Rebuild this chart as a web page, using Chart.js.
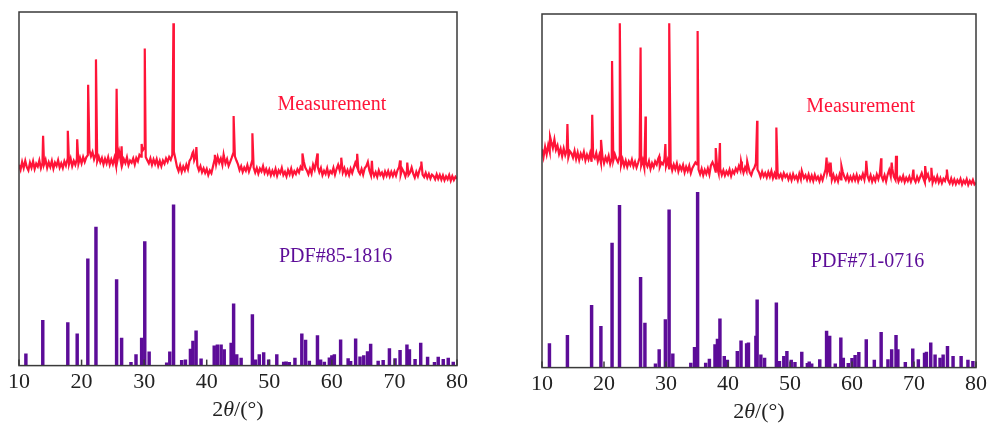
<!DOCTYPE html>
<html>
<head>
<meta charset="utf-8">
<script src="https://cdn.jsdelivr.net/npm/chart.js@4/dist/chart.umd.min.js"></script>
<style>
  html, body { margin: 0; padding: 0; background: #fff; }
  .panel { position: absolute; top: 0; width: 495px; height: 424px; }
  #leftBox { left: 0; }
  #rightBox { left: 495px; }
</style>
</head>
<body>
<div class="panel" id="leftBox"><canvas id="leftChart"></canvas></div>
<div class="panel" id="rightBox"><canvas id="rightChart"></canvas></div>
<script>
// x軸 2θ (°)
const xTicks = [10, 20, 30, 40, 50, 60, 70, 80];
const measStart = 10;
const measStep = 0.25;

// 左：測定データ（10°〜80°、0.25°刻み、強度は任意単位）
const leftMeasY = [
  56.8,55.4,57.6,55.9,57.9,56.1,55.2,57.4,56.0,57.8,55.6,57.1,56.3,58.0,55.8,57.3,56.9,58.2,55.9,57.5,
  56.2,57.9,55.7,57.4,56.5,58.1,56.0,57.2,55.9,57.8,56.6,58.3,57.0,58.6,56.4,57.9,56.8,58.4,57.1,58.8,
  57.2,59.0,57.6,58.9,59.5,61.0,59.2,60.4,58.3,59.6,57.8,59.1,57.5,58.7,56.9,58.5,57.2,58.9,56.8,58.3,
  57.0,58.8,56.6,58.2,60.5,58.0,56.8,58.4,57.3,58.9,56.7,58.0,57.4,58.6,56.9,58.7,57.8,59.6,59.1,60.8,
  61.5,59.0,58.1,57.2,58.6,56.8,58.3,57.0,58.4,56.5,57.9,56.4,58.0,57.1,58.6,57.6,59.0,58.2,59.6,60.5,
  58.4,56.2,55.0,56.6,54.8,56.3,55.2,56.8,55.5,57.9,58.6,60.2,58.1,59.3,56.6,55.2,56.4,54.7,55.8,54.5,
  55.6,53.9,55.2,54.4,56.3,58.2,56.9,59.0,57.4,58.6,56.8,59.1,57.2,58.4,56.5,57.6,58.8,60.1,59.2,58.0,
  56.9,55.3,56.4,54.8,56.0,55.1,56.7,54.9,56.2,57.9,56.0,54.6,55.9,54.3,55.7,54.9,56.4,54.5,55.6,54.2,
  55.4,53.8,55.1,54.0,55.6,53.7,55.2,54.4,55.9,53.9,54.8,53.5,55.3,54.1,55.7,53.8,55.0,54.2,55.5,54.6,
  56.2,55.4,57.8,56.0,55.2,54.1,55.6,54.3,56.8,55.5,57.9,56.2,54.7,55.9,53.9,55.1,54.2,55.8,53.8,55.0,
  54.4,55.9,54.0,55.6,56.8,55.2,57.2,54.6,55.8,54.1,55.3,53.9,55.7,54.5,56.0,57.4,56.3,55.0,54.2,55.6,
  54.0,55.8,56.4,57.6,55.1,53.8,55.0,53.6,54.7,53.4,55.2,53.9,54.6,53.3,54.9,53.7,55.0,53.5,54.8,53.6,
  54.9,53.7,55.3,56.2,54.0,55.6,54.8,53.5,55.1,53.9,54.6,56.0,54.3,53.2,54.8,53.6,55.2,56.4,54.0,53.3,
  54.5,53.1,54.2,52.9,54.0,53.6,52.7,54.1,52.8,53.9,52.6,53.8,52.4,53.5,52.7,53.9,52.3,53.6,52.5,53.4,
  52.8
];
// 左：測定データのピーク [2θ, 強度]
const leftMeasPeaks = [
  [13.85,65],[17.8,66.4],[19.3,64],[21.05,79.4],[22.3,86.6],[25.6,78.3],[26.4,62],
  [29.6,62.7],[30.1,89.7],[34.68,96.8],[37.85,60.5],[38.35,61.8],[41.3,59.6],[42.7,59.6],
  [44.3,70.6],[47.3,65.7],[55.3,60],[57.7,60],[61.5,58.8],[64.05,59.9],[66.4,57.9],
  [70.9,58],[72.05,57.4],[74.3,57.7]
];
// 左：PDF#85-1816 の標準線 [2θ, 強度]
const leftRefLines = [
  [11.1,3.3],[13.8,12.8],[17.8,12.2],[19.3,9.0],[21.0,30.2],[22.3,39.2],[25.6,24.3],[26.4,7.8],
  [27.9,0.9],[28.7,3.1],[29.6,7.8],[30.1,35.1],[30.8,3.9],[33.6,0.8],[34.1,3.9],[34.7,45.5],
  [36.0,1.5],[36.6,1.6],[37.4,4.7],[37.8,6.9],[38.3,9.8],[39.1,1.9],[41.2,5.6],[41.7,5.9],
  [42.3,5.9],[42.8,4.5],[43.9,6.4],[44.3,17.5],[44.8,3.1],[45.5,2.1],[47.3,14.4],[47.8,1.6],
  [48.4,3.1],[49.1,3.7],[49.9,1.6],[51.2,3.1],[52.3,1.0],[52.7,1.1],[53.2,0.9],[54.1,2.1],
  [55.2,9.0],[55.8,7.2],[56.4,1.3],[57.7,8.5],[58.2,1.6],[58.8,1.0],[59.6,2.2],[60.0,2.8],
  [60.4,3.1],[61.4,7.3],[62.6,2.0],[63.0,1.2],[63.8,7.6],[64.5,2.5],[65.1,2.8],[65.7,4.0],
  [66.2,6.1],[67.4,1.3],[68.2,1.5],[69.2,4.8],[70.1,2.0],[70.9,4.3],[72.0,5.9],[72.4,4.5],
  [73.3,1.8],[74.2,6.4],[75.3,2.4],[76.4,0.9],[77.0,2.4],[77.8,1.8],[78.6,2.1],[79.4,1.0]
];

// 右：測定データ（10°〜80°、0.25°刻み）
const rightMeasY = [
  61.8,59.6,62.4,60.3,62.9,61.0,63.8,62.1,64.5,61.6,62.8,60.4,61.9,59.8,62.0,60.1,61.5,59.5,61.2,60.6,
  59.4,61.3,59.0,60.8,58.7,60.5,59.3,61.0,58.6,60.2,58.9,60.6,58.2,59.9,59.2,60.7,58.4,60.1,58.0,59.6,
  57.8,59.5,58.3,59.9,57.6,59.2,58.6,60.3,59.0,58.1,59.6,57.2,58.9,57.0,58.5,56.8,58.3,57.3,58.8,56.9,
  58.2,56.6,57.9,59.4,57.2,58.7,56.5,58.0,56.9,58.4,56.2,57.8,56.7,58.3,57.4,59.1,56.8,58.0,57.5,58.9,
  57.0,58.6,56.3,57.9,55.8,57.4,56.1,57.7,55.5,57.0,55.9,57.3,55.2,56.8,55.6,57.1,55.0,56.4,57.2,58.0,
  57.5,56.0,54.7,56.2,54.4,55.9,54.8,56.3,54.6,57.2,58.1,57.0,55.4,56.7,54.9,56.2,54.5,55.8,54.3,55.5,
  54.6,56.0,54.2,55.7,54.9,56.3,55.4,57.0,55.8,56.9,55.1,56.6,55.5,57.1,55.2,54.4,55.8,56.5,57.8,56.0,
  55.2,53.9,55.4,54.1,55.0,53.8,55.3,54.0,55.6,53.6,54.9,53.5,55.1,53.8,54.7,53.4,55.0,53.9,54.6,53.2,
  54.5,53.0,54.7,53.4,54.2,52.9,54.8,53.3,55.0,53.6,54.4,53.1,54.6,53.0,54.3,52.8,54.5,53.2,54.0,52.7,
  54.2,53.0,54.6,56.1,55.2,57.0,54.3,53.1,54.5,52.9,54.1,52.7,54.6,53.2,55.4,54.0,53.1,54.4,52.8,54.0,
  52.9,54.3,53.0,54.5,52.7,54.1,53.4,54.8,53.2,56.0,54.2,53.0,54.4,52.6,53.9,52.8,54.6,53.3,55.0,54.2,
  53.0,54.4,52.7,54.6,55.9,54.1,56.2,54.0,53.1,54.3,52.6,53.8,52.9,54.2,52.5,53.7,52.8,54.0,52.6,53.9,
  53.4,52.5,54.0,52.8,53.9,55.0,53.6,52.4,53.8,54.7,52.9,53.5,52.3,53.7,52.6,54.1,52.4,53.6,52.2,53.4,
  52.8,54.4,53.0,52.1,53.5,52.0,53.2,51.9,53.0,52.2,53.4,51.8,52.9,52.1,53.3,51.7,52.8,52.0,53.1,51.8,
  52.3
];
const rightMeasPeaks = [
  [11.3,65.3],[14.1,68.9],[18.1,71.5],[19.52,64.4],[21.3,86.7],[22.55,97.4],[25.9,90.5],
  [26.7,71],[28.9,59.7],[29.9,63.2],[30.52,97.4],[35.1,95.2],[38.02,62.1],[38.7,63.5],
  [42.1,58.3],[43.1,58.3],[44.7,69.8],[47.8,67.9],[51.9,55.6],[55.9,59.4],[56.55,58],
  [58.3,57],[62.3,58.5],[64.7,59.2],[66.4,58],[67.1,59.9],[69.9,56],[71.8,57],[72.8,56.5],
  [75.3,56]
];
// 右：PDF#71-0716 の標準線
const rightRefLines = [
  [11.2,6.8],[14.1,9.1],[18.0,17.6],[19.5,11.7],[21.3,35.2],[22.5,45.9],[25.9,25.5],[26.6,12.6],
  [28.3,1.1],[28.9,5.1],[29.9,13.6],[30.5,44.6],[31.1,3.9],[34.0,1.3],[34.6,5.7],[35.1,49.6],
  [36.4,1.3],[37.0,2.4],[37.9,6.5],[38.3,8.1],[38.7,13.8],[39.4,3.2],[39.9,2.1],[41.5,4.6],
  [42.1,7.6],[43.0,6.8],[43.3,7.0],[44.5,8.9],[44.7,19.2],[45.3,3.6],[45.9,2.7],[47.8,18.3],
  [48.3,1.8],[49.0,3.2],[49.5,4.6],[50.2,2.1],[50.8,1.5],[51.9,4.4],[52.8,1.2],[53.1,1.6],
  [53.5,1.1],[54.8,2.3],[55.9,10.3],[56.4,8.9],[57.3,1.1],[58.2,8.4],[58.6,2.7],[59.4,1.2],
  [60.0,2.6],[60.5,3.5],[61.1,4.3],[62.3,7.9],[63.6,2.1],[64.7,10.0],[65.8,2.3],[66.4,5.1],
  [67.1,9.1],[67.4,5.1],[68.6,1.5],[69.8,5.3],[70.7,2.3],[71.7,4.1],[72.0,4.4],[72.7,7.0],
  [73.4,3.6],[74.2,2.7],[74.7,3.6],[75.4,6.0],[76.3,3.2],[77.6,3.2],[78.7,2.1],[79.5,1.8]
];

const RED = '#ff1438';
const PURPLE = '#5c0c98';

/**
 * 測定データの点列を作成（格子点とピーク点を2θ順に並べる）
 */
function buildMeasurement(yValues, peaks) {
  const pts = yValues.map((y, i) => ({ x: measStart + i * measStep, y: y }));
  peaks.forEach(p => pts.push({ x: p[0], y: p[1] }));
  return pts.sort((a, b) => a.x - b.x);
}

// 枠・内向き目盛・注記・軸タイトル
const framePlugin = {
  id: 'frame',
  afterDatasetsDraw(chart, args, opts) {
    const { ctx, chartArea: a, scales: { x, y } } = chart;
    ctx.save();
    ctx.strokeStyle = '#3a3a3a';
    ctx.lineWidth = 1.5;
    ctx.strokeRect(a.left, a.top, a.right - a.left, a.bottom - a.top);
    xTicks.forEach(v => {
      const px = x.getPixelForValue(v);
      ctx.beginPath();
      ctx.moveTo(px, a.bottom);
      ctx.lineTo(px, a.bottom - 6);
      ctx.stroke();
    });

    ctx.textAlign = 'center';
    ctx.textBaseline = 'middle';
    ctx.font = '20px "Liberation Serif"';
    opts.notes.forEach(n => {
      ctx.fillStyle = n.color;
      ctx.fillText(n.text, x.getPixelForValue(n.x), y.getPixelForValue(n.y));
    });

    // 2θ/(°)  θ は斜体
    const parts = [
      { t: '2', f: '22px "Liberation Serif"' },
      { t: 'θ', f: 'italic 22px "Liberation Serif"' },
      { t: '/(°)', f: '22px "Liberation Serif"' }
    ];
    let total = 0;
    parts.forEach(p => { ctx.font = p.f; p.w = ctx.measureText(p.t).width; total += p.w; });
    let cx = (a.left + a.right) / 2 - total / 2;
    ctx.textAlign = 'left';
    ctx.fillStyle = '#222';
    parts.forEach(p => {
      ctx.font = p.f;
      ctx.fillText(p.t, cx, a.bottom + 45);
      cx += p.w;
    });
    ctx.restore();
  }
};

function makeChart(id, measY, peaks, refLines, notes, padding) {
  const ctx = document.getElementById(id).getContext('2d');
  return new Chart(ctx, {
    type: 'bar',
    data: {
      datasets: [
        {
          type: 'line',
          data: buildMeasurement(measY, peaks),
          borderColor: RED,
          borderWidth: 2.2,
          pointRadius: 0,
          tension: 0,
          order: 0
        },
        {
          type: 'bar',
          data: refLines.map(r => ({ x: r[0], y: r[1] })),
          backgroundColor: PURPLE,
          borderWidth: 0,
          barThickness: 2.8,
          order: 1
        }
      ]
    },
    options: {
      responsive: true,
      maintainAspectRatio: false,
      animation: false,
      events: [],
      layout: { padding: padding },
      plugins: {
        legend: { display: false },
        tooltip: { enabled: false },
        frame: { notes: notes }
      },
      scales: {
        x: {
          type: 'linear',
          min: 10,
          max: 80,
          offset: false,
          afterBuildTicks: s => { s.ticks = xTicks.map(v => ({ value: v })); },
          grid: { display: false, drawTicks: false, offset: false },
          border: { display: false },
          ticks: {
            color: '#222',
            padding: 3,
            maxRotation: 0,
            font: { family: '"Liberation Serif"', size: 22 }
          }
        },
        y: {
          display: false,
          min: 0,
          max: 100
        }
      }
    },
    plugins: [framePlugin]
  });
}

makeChart('leftChart', leftMeasY, leftMeasPeaks, leftRefLines, [
  { text: 'Measurement', x: 60.0, y: 73.7, color: RED },
  { text: 'PDF#85-1816', x: 60.6, y: 30.9, color: PURPLE }
], { left: 19, right: 38, top: 12, bottom: 26 });

makeChart('rightChart', rightMeasY, rightMeasPeaks, rightRefLines, [
  { text: 'Measurement', x: 61.4, y: 73.7, color: RED },
  { text: 'PDF#71-0716', x: 62.5, y: 30.0, color: PURPLE }
], { left: 47, right: 10, top: 14, bottom: 24 });
</script>
</body>
</html>
